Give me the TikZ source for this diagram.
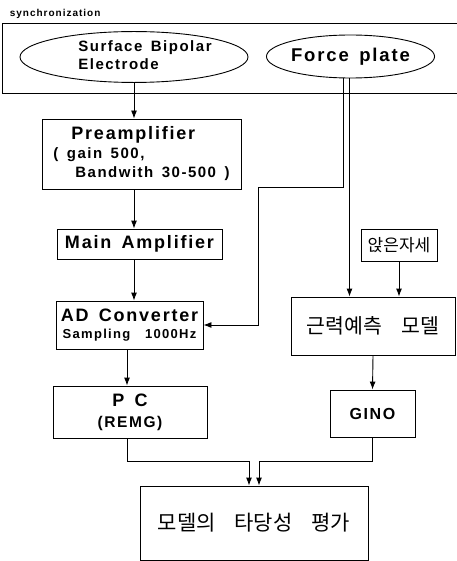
\documentclass[tikz,border=0pt]{standalone}
\usepackage{fontspec}
\setmainfont{Liberation Sans}[LetterSpace=10,WordSpace=1.5]
\newfontfamily\kor{Noto Sans CJK KR}
\usetikzlibrary{shapes.geometric,arrows.meta}

\begin{document}
\begin{tikzpicture}[x=1pt,y=-1pt,line width=0.9pt,
    blk/.style={draw,inner sep=0pt,align=center,font=\bfseries},
    ell/.style={draw,ellipse,inner sep=0pt,font=\bfseries},
    arr/.style={-{Latex[length=8pt,width=6pt]}}]
  \useasboundingbox (0,0) rectangle (456,561);

  % synchronization frame
  \node[anchor=base west,font=\bfseries\fontsize{10}{12}\selectfont] (sync) at (6,17) {synchronization};
  \draw (457,23) -- (2,23) -- (2,93) -- (457,93);
  \node[ell,minimum width=228pt,minimum height=42pt,font=\bfseries\fontsize{15}{18}\selectfont]
    (emg) at (134,57) {\hspace*{22pt}\begin{tabular}{@{}l@{}}Surface Bipolar\\Electrode\end{tabular}};
  \node[ell,minimum width=155pt,minimum height=43pt,font=\bfseries\fontsize{18.5}{20}\selectfont]
    (fp) at (350.5,56.5) {Force plate};

  % EMG chain
  \node[blk,align=left,minimum width=199pt,minimum height=70pt,font=\bfseries\fontsize{15}{19}\selectfont]
    (pre) at (141.5,154) {\hspace*{18pt}{\fontsize{18}{19}\selectfont Preamplifier}\\( gain 500,\\\hspace*{22pt}Bandwith 30-500 )};
  \node[blk,minimum width=165pt,minimum height=30pt,font=\bfseries\fontsize{18}{20}\selectfont]
    (main) at (139.5,244) {Main Amplifier};
  \node[blk,minimum width=147pt,minimum height=48pt,font=\bfseries\fontsize{13}{17}\selectfont]
    (adc) at (129.5,325) {{\fontsize{18}{17}\selectfont AD Converter}\\Sampling\ \ 1000Hz};
  \node[blk,minimum width=154pt,minimum height=52pt,font=\bfseries\fontsize{15.5}{21}\selectfont]
    (pc) at (130,412) {{\fontsize{18}{21}\selectfont P\ C}\\(REMG)};

  % force model chain
  \node[blk,minimum width=76pt,minimum height=32pt,font=\kor\fontsize{17}{18}\selectfont]
    (sit) at (399,245) {앉은자세};
  \node[blk,minimum width=164pt,minimum height=58pt,font=\kor\fontsize{20.5}{22}\selectfont]
    (mdl) at (373,326) {근력예측\hspace{20pt}모델};
  \node[blk,minimum width=85pt,minimum height=47pt,font=\bfseries\fontsize{16}{18}\selectfont]
    (gino) at (372.5,413.5) {GINO};

  \node[blk,minimum width=228pt,minimum height=74pt,font=\kor\fontsize{21}{22}\selectfont]
    (val) at (254,523) {모델의\hspace{19pt}타당성\hspace{19pt}평가};

  \coordinate (bend) at (258,187);
  \coordinate (j) at (254,461);

  \draw[arr] (emg.south) -- (emg.south |- pre.north);
  \draw[arr] (pre.south -| emg.south) -- (main.north -| emg.south);
  \draw[arr] (main.south -| emg.south) -- (adc.north -| emg.south);
  \draw[arr] ([xshift=-3pt]pc.north |- adc.south) -- ([xshift=-3pt]pc.north);
  \draw[arr] ([xshift=-7pt]fp.south) |- (bend) |- (adc.east);
  \draw[arr] ([xshift=-1pt]fp.south) -- ([xshift=-1pt]fp.south |- mdl.north);
  \draw[arr] (sit.south) -- (sit.south |- mdl.north);
  \draw[arr] (mdl.south) -- (gino.north);
  \draw[arr] ([xshift=-3pt]pc.south) |- ([xshift=-5pt]val.north |- j) -- ([xshift=-5pt]val.north);
  \draw[arr] (gino.south) |- ([xshift=5pt]val.north |- j) -- ([xshift=5pt]val.north);
\end{tikzpicture}
\end{document}
